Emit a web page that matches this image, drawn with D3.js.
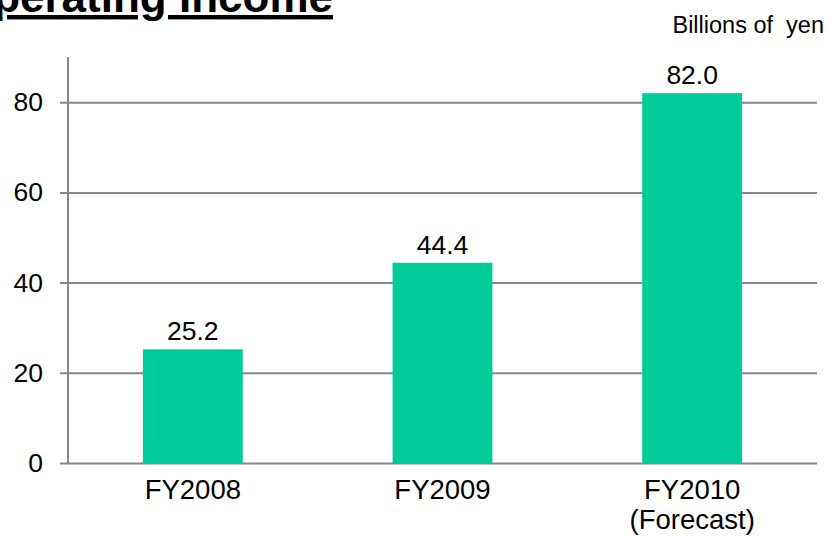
<!DOCTYPE html>
<html>
<head>
<meta charset="utf-8">
<script src="https://cdn.jsdelivr.net/npm/d3@7"></script>
<style>
    body { margin: 0; background: #fff; }
    svg { display: block; font-family: "Liberation Sans", Arial, sans-serif; }
</style>
</head>
<body>
<script>
const categories = ["FY2008", "FY2009", "FY2010"];
const subLabels = ["", "", "(Forecast)"];
const values = [25.2, 44.4, 82.0];
const yTicks = [0, 20, 40, 60, 80];

const w = 830;
const h = 537;
const plotLeft = 68;
const plotRight = 817;
const plotTop = 57;
const plotBottom = 463;

const svg = d3.select("body").append("svg").attr("width", w).attr("height", h);

const x = d3.scaleBand()
    .domain(categories)
    .range([plotLeft, plotRight])
    .paddingInner(0.6)
    .paddingOuter(0.3);

const y = d3.scaleLinear()
    .domain([0, 90])
    .range([plotBottom, plotBottom - 90 * 4.51]);

// gridlines + y axis
const yAxis = d3.axisLeft(y)
    .tickValues(yTicks)
    .tickSize(-(plotRight - plotLeft))
    .tickPadding(0)
    .tickFormat(d3.format("d"));

const gy = svg.append("g")
    .attr("transform", `translate(${plotLeft},0)`)
    .call(yAxis);
gy.select(".domain").remove();
gy.selectAll(".tick line")
    .attr("x1", -8)
    .attr("stroke", "#878787")
    .attr("stroke-width", 2);
gy.selectAll(".tick text")
    .attr("x", -25)
    .attr("fill", "#000")
    .style("font-size", "26.5px")
    .style("font-family", "Liberation Sans, Arial, sans-serif");

svg.append("line")
    .attr("x1", plotLeft).attr("x2", plotLeft)
    .attr("y1", plotTop).attr("y2", plotBottom)
    .attr("stroke", "#878787")
    .attr("stroke-width", 2);

// bars
svg.selectAll("rect.bar")
    .data(values)
    .enter()
    .append("rect")
    .attr("class", "bar")
    .attr("x", (d, i) => x(categories[i]))
    .attr("y", (d) => y(d))
    .attr("width", x.bandwidth())
    .attr("height", (d) => y(0) - y(d))
    .attr("fill", "#00cc99");

// value labels
svg.selectAll("text.val")
    .data(values)
    .enter()
    .append("text")
    .attr("class", "val")
    .attr("x", (d, i) => x(categories[i]) + x.bandwidth() / 2)
    .attr("y", (d) => y(d) - 9)
    .attr("text-anchor", "middle")
    .style("font-size", "26.5px")
    .text((d) => d.toFixed(1));

// category labels
const cat = svg.selectAll("text.cat")
    .data(categories)
    .enter()
    .append("text")
    .attr("class", "cat")
    .attr("x", (d) => x(d) + x.bandwidth() / 2)
    .attr("y", 499)
    .attr("text-anchor", "middle")
    .style("font-size", "27.5px");
cat.append("tspan").text((d) => d);
cat.append("tspan")
    .attr("x", (d) => x(d) + x.bandwidth() / 2)
    .attr("dy", 30)
    .text((d, i) => subLabels[i]);

// title
svg.append("text")
    .attr("x", 333)
    .attr("y", 12)
    .attr("text-anchor", "end")
    .style("font-size", "44px")
    .style("font-weight", "bold")
    .style("text-decoration", "underline")
    .text("Operating Income");

svg.append("text")
    .attr("x", 824)
    .attr("y", 33)
    .attr("text-anchor", "end")
    .style("font-size", "23.5px")
    .style("white-space", "pre")
    .text("Billions of  yen");
</script>
</body>
</html>
